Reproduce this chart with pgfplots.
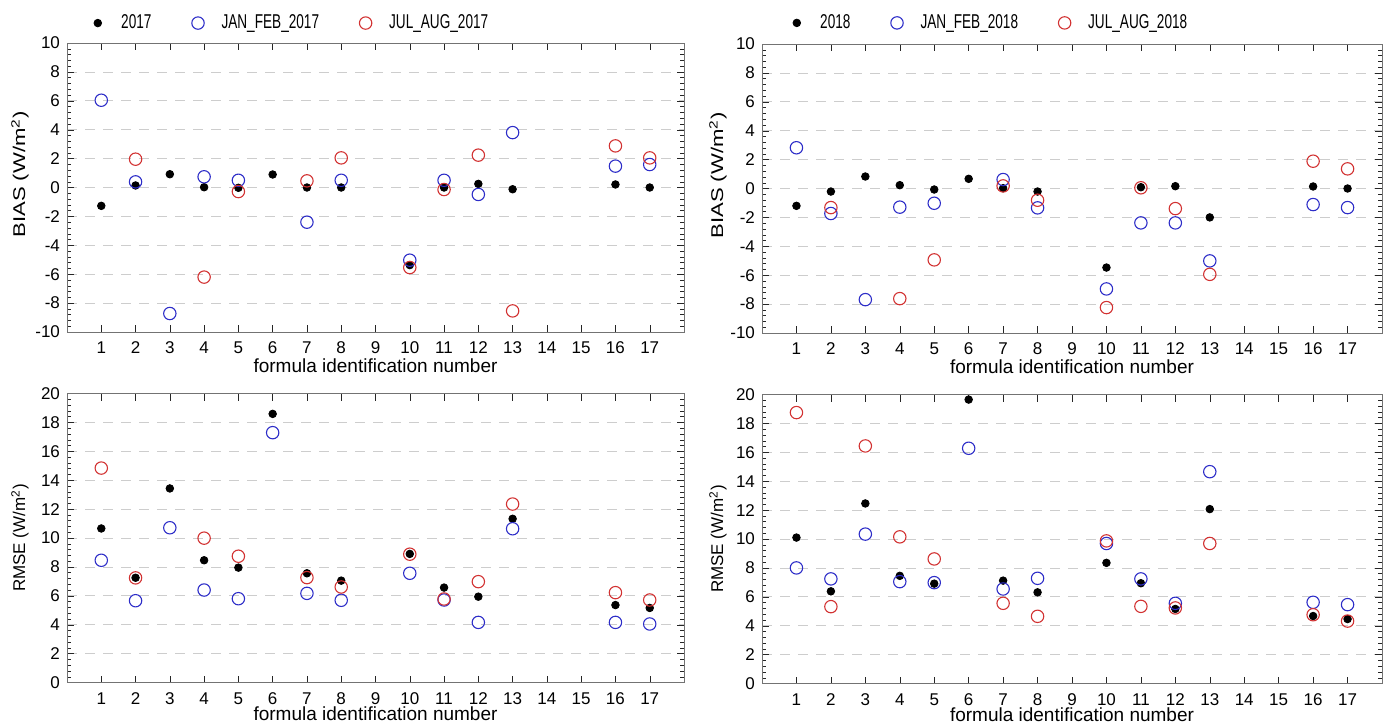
\documentclass[border=0pt]{standalone}
\usepackage{fontspec}
\setmainfont{Liberation Sans}
\newfontfamily\legfont[FakeStretch=0.68]{Liberation Sans}
\newfontfamily\ylabfont[FakeStretch=1.3]{Liberation Sans}
\usepackage{pgfplots}
\pgfplotsset{compat=1.18}

\definecolor{jfblue}{RGB}{45,45,200}
\definecolor{jared}{RGB}{210,50,50}
\definecolor{framegray}{RGB}{115,115,115}
\definecolor{gridgray}{RGB}{205,205,205}

\pgfplotsset{
  panel/.style={
    scale only axis, width=308.5pt, height=144.5pt,
    anchor=south west,
    xmin=0, xmax=18, xtick={1,...,17},
    tick align=inside,
    minor y tick num=4,
    major tick length=3.5pt, minor tick length=2pt,
    ymajorgrids, grid style={gridgray, dash pattern=on 5pt off 4pt},
    axis line style={framegray},
    tick style={black!85},
    /pgf/number format/assume math mode=true,
    tick label style={font=\fontsize{8.5}{9}\selectfont},
    xticklabel style={yshift=-1.5pt},
    xlabel={formula identification number},
    xlabel style={font=\fontsize{9.5}{10}\selectfont, at={(axis description cs:0.5,0)}, anchor=center},
    ylabel style={at={(axis description cs:0,0.5)}, anchor=center},
    legend columns=3,
    legend style={draw=none, fill=none, inner xsep=0pt, inner ysep=0pt,
      font=\fontsize{10}{11}\legfont, anchor=west,
      /tikz/every even column/.append style={column sep=15pt}},
    legend image code/.code={\draw[#1] plot coordinates {(6pt,0pt)}; \path (0pt,0pt) (15.5pt,0pt);},
  },
  bias/.style={ymin=-10, ymax=10, ytick={-10,-8,...,10},
    ylabel={BIAS (W/m\textsuperscript{2})}, xlabel style={yshift=-17pt},
    ylabel style={font=\fontsize{8.5}{9}\ylabfont, xshift=6.5pt}},
  rmse/.style={ymin=0, ymax=20, ytick={0,2,...,20},
    ylabel={RMSE (W/m\textsuperscript{2})}, xlabel style={yshift=-15.5pt},
    ylabel style={font=\fontsize{8.5}{9}\selectfont}},
  yr/.style={only marks, mark=*, mark size=1.9pt, black},
  jf/.style={only marks, mark=o, mark size=3.1pt, jfblue, line width=0.55pt},
  ja/.style={only marks, mark=o, mark size=3.1pt, jared, line width=0.55pt},
}

\begin{document}
\begin{tikzpicture}
\useasboundingbox (0pt,0pt) rectangle (695.5pt,362.5pt);

% BIAS 2017
\begin{axis}[panel, bias, at={(33.5pt,196.5pt)},
  ylabel style={yshift=23.5pt},
  legend style={at={(axis description cs:0,1.069)}, xshift=9pt}]
\addplot[yr] coordinates {(1,-1.27)(2,0.14)(3,0.92)(4,0.02)(5,-0.02)(6,0.90)(7,0.0)(8,0.0)(10,-5.37)(11,0.0)(12,0.25)(13,-0.12)(16,0.21)(17,0.0)};
\addplot[jf] coordinates {(1,6.04)(2,0.39)(3,-8.72)(4,0.74)(5,0.50)(7,-2.40)(8,0.50)(10,-5.03)(11,0.50)(12,-0.48)(13,3.80)(16,1.48)(17,1.59)};
\addplot[ja] coordinates {(2,1.96)(4,-6.20)(5,-0.28)(7,0.46)(8,2.05)(10,-5.54)(11,-0.14)(12,2.24)(13,-8.54)(16,2.88)(17,2.05)};
\legend{2017, JAN\_FEB\_2017, JUL\_AUG\_2017}
\end{axis}

% BIAS 2018
\begin{axis}[panel, bias, at={(381pt,196pt)}, width=310pt,
  ylabel style={yshift=22pt},
  legend style={at={(axis description cs:0,1.073)}, xshift=11pt}]
\addplot[yr] coordinates {(1,-1.20)(2,-0.21)(3,0.83)(4,0.23)(5,-0.07)(6,0.67)(7,0.02)(8,-0.21)(10,-5.47)(11,0.09)(12,0.16)(13,-2.00)(16,0.14)(17,0.0)};
\addplot[jf] coordinates {(1,2.82)(2,-1.73)(3,-7.69)(4,-1.29)(5,-1.02)(7,0.62)(8,-1.34)(10,-6.95)(11,-2.38)(12,-2.38)(13,-5.01)(16,-1.11)(17,-1.32)};
\addplot[ja] coordinates {(2,-1.32)(4,-7.62)(5,-4.94)(7,0.18)(8,-0.81)(10,-8.24)(11,0.05)(12,-1.39)(13,-5.94)(16,1.89)(17,1.36)};
\legend{2018, JAN\_FEB\_2018, JUL\_AUG\_2018}
\end{axis}

% RMSE 2017
\begin{axis}[panel, rmse, at={(33.5pt,21.25pt)},
  ylabel style={yshift=23.5pt}]
\addplot[yr] coordinates {(1,10.66)(2,7.25)(3,13.43)(4,8.46)(5,7.95)(6,18.59)(7,7.56)(8,7.05)(10,8.90)(11,6.57)(12,5.94)(13,11.33)(16,5.36)(17,5.16)};
\addplot[jf] coordinates {(1,8.46)(2,5.66)(3,10.71)(4,6.40)(5,5.80)(6,17.29)(7,6.17)(8,5.69)(10,7.56)(11,5.71)(12,4.16)(13,10.64)(16,4.16)(17,4.05)};
\addplot[ja] coordinates {(1,14.84)(2,7.24)(4,9.99)(5,8.74)(7,7.26)(8,6.61)(10,8.88)(11,5.78)(12,6.98)(13,12.35)(16,6.22)(17,5.71)};
\end{axis}

% RMSE 2018
\begin{axis}[panel, rmse, at={(381pt,20.75pt)}, width=310pt,
  ylabel style={yshift=22pt}]
\addplot[yr] coordinates {(1,10.10)(2,6.38)(3,12.46)(4,7.45)(5,6.91)(6,19.65)(7,7.12)(8,6.31)(10,8.35)(11,6.94)(12,5.16)(13,12.07)(16,4.67)(17,4.46)};
\addplot[jf] coordinates {(1,8.00)(2,7.24)(3,10.34)(4,7.05)(5,6.98)(6,16.28)(7,6.54)(8,7.28)(10,9.69)(11,7.24)(12,5.55)(13,14.66)(16,5.62)(17,5.46)};
\addplot[ja] coordinates {(1,18.75)(2,5.32)(3,16.44)(4,10.15)(5,8.62)(7,5.55)(8,4.65)(10,9.87)(11,5.34)(12,5.23)(13,9.69)(16,4.76)(17,4.32)};
\end{axis}
\end{tikzpicture}
\end{document}
